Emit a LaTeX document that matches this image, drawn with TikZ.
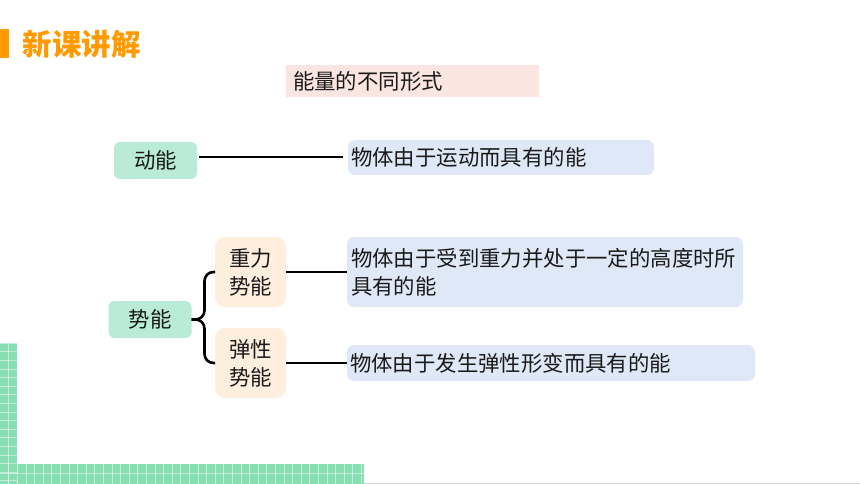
\documentclass[tikz,border=0pt]{standalone}
\usepackage{fontspec}
\setmainfont{Noto Sans CJK SC}
\usetikzlibrary{calc}
\definecolor{cOrange}{HTML}{FF9A00}
\definecolor{cPink}{HTML}{FBE5E0}
\definecolor{cGreen}{HTML}{B9EBD6}
\definecolor{cPeach}{HTML}{FEEEDD}
\definecolor{cBlue}{HTML}{DEE8F6}
\definecolor{cGrid}{HTML}{86DEB1}
\definecolor{cText}{HTML}{1A1A1A}
\begin{document}
\begin{tikzpicture}[x=1pt,y=-1pt,
  base/.style={inner sep=0pt, outer sep=0pt, text=cText, font=\fontsize{21.4}{28}\selectfont},
  greenbox/.style={base, fill=cGreen, rounded corners=6pt, minimum width=83pt, minimum height=37pt},
  peachbox/.style={base, fill=cPeach, rounded corners=10pt, minimum width=71pt, minimum height=70pt, align=center},
  bluebox/.style={base, fill=cBlue, rounded corners=7pt, align=left, inner xsep=3pt},
  conn/.style={line width=2.6pt, draw=black}
]
\useasboundingbox (0,0) rectangle (860,484);
\fill[white] (0,0) rectangle (860,484);

% header
\fill[cOrange] (0,29) rectangle (9,58);
\node[base, anchor=west, text=cOrange, font=\fontsize{29.5}{31}\selectfont\bfseries] (hdr) at (23,44) {新课讲解};

% green grid decoration
\fill[cGrid] (0,343) rectangle (17,484);
\fill[cGrid] (0,464) rectangle (364,484);
\foreach \i in {0,...,16} {
  \draw[white, line width=0.5pt, opacity=0.5] (0,{343+8.6*\i}) -- (17,{343+8.6*\i});
}
\draw[white, line width=0.5pt, opacity=0.5] (8.5,343) -- (8.5,484);
\draw[white, line width=0.5pt, opacity=0.5] (0,473.5) -- (364,473.5);
\foreach \i in {1,...,42} {
  \draw[white, line width=0.5pt, opacity=0.5] ({8.6*\i},464) -- ({8.6*\i},484);
}
\fill[gray!35] (364,482.6) rectangle (860,484);

% title
\node[base, fill=cPink, minimum width=253pt, minimum height=32pt, text width=239pt, inner xsep=7pt, align=left] (title) at (412.5,81) {能量的不同形式};

% kinetic energy
\node[greenbox] (dn) at (155.5,160.5) {动能};
\node[bluebox, minimum width=306pt, minimum height=35pt, text width=300pt] (d1) at (501,157.5) {物体由于运动而具有的能};
\coordinate (dnr) at ($(dn.east)+(2,-3.5)$);
\coordinate (d1e) at ($(dnr -| d1.west)+(-5,0)$);
\draw[conn] (dnr) -- (d1e);

% potential energy
\node[greenbox] (sn) at (150,319.5) {势能};
\node[peachbox] (zl) at (250.5,272) {重力\\势能};
\node[peachbox, minimum height=70pt] (tx) at (250.5,363) {弹性\\势能};
\node[bluebox, minimum width=396pt, minimum height=70pt, text width=388pt, inner xsep=4pt] (d2) at (545,272) {物体由于受到重力并处于一定的高度时所\\具有的能};
\node[bluebox, minimum width=408pt, minimum height=36pt, text width=402pt] (d3) at (551,363) {物体由于发生弹性形变而具有的能};

\draw[conn, rounded corners=9pt] (sn.east) -- ++(13,0) coordinate (br) |- (zl.west);
\draw[conn, rounded corners=9pt] (sn.east) -- (br) |- (tx.west);
\draw[conn] (zl.east) -- (zl.east -| d2.west);
\draw[conn] (tx.east) -- (tx.east -| d3.west);
\end{tikzpicture}
\end{document}
